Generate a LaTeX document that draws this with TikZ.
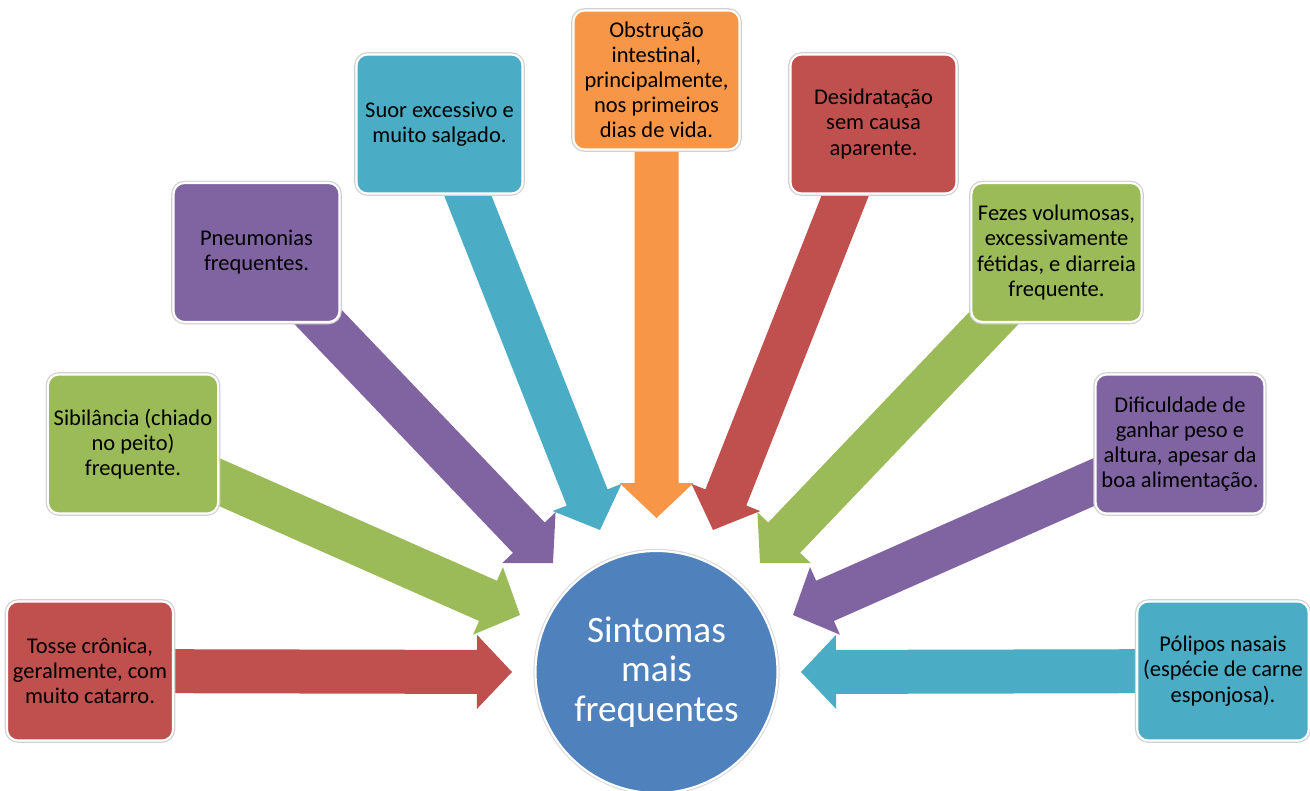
\documentclass[tikz,border=0pt]{standalone}
\usepackage{fontspec}
\setmainfont{Carlito}
\usetikzlibrary{calc,backgrounds}

\definecolor{ofblue}{HTML}{4F81BD}
\definecolor{ofred}{HTML}{C0504D}
\definecolor{ofgreen}{HTML}{9BBB59}
\definecolor{ofpurple}{HTML}{8064A2}
\definecolor{ofaqua}{HTML}{4BACC6}
\definecolor{oforange}{HTML}{F79646}

% block arrow from a node to a tip coordinate
\newcommand{\blockarrow}[3]{%
    \coordinate (hb) at ($(#3)!0.7cm!(#2)$);
    \fill [#1] ($(#2)!0.44cm!90:(#3)$) -- ($(hb)!0.44cm!90:(#3)$)
        -- ($(hb)!0.74cm!90:(#3)$) -- (#3) -- ($(hb)!0.74cm!-90:(#3)$)
        -- ($(hb)!0.44cm!-90:(#3)$) -- ($(#2)!0.44cm!-90:(#3)$) -- cycle;
}

\begin{document}
\begin{tikzpicture}[
    symbox/.style={rounded corners=0.22cm, minimum width=3.32cm, minimum height=2.78cm,
        align=center, draw=white, line width=1.2pt, preaction={draw=black!18, line width=2.6pt},
        font=\fontsize{12.8}{14.3}\selectfont, text=black},
    hub/.style={circle, fill=ofblue, draw=white, line width=1.2pt, preaction={draw=black!15, line width=2.4pt},
        minimum size=4.84cm, align=center, text=white, font=\fontsize{21.2}{22.6}\selectfont}]
    \useasboundingbox (0,0) rectangle (26.2,-15.82);

    % Centre
    \node [hub] (centro) at (13.13,-13.44) {Sintomas\\mais\\frequentes};

    % Symptom boxes
    \node [symbox, fill=ofred] (tosse) at (1.80,-13.42) {Tosse crônica,\\geralmente, com\\muito catarro.};
    \node [symbox, fill=ofgreen] (sibil) at (2.66,-8.88) {Sibilância (chiado\\no peito)\\frequente.};
    \node [symbox, fill=ofpurple] (pneum) at (5.13,-5.05) {Pneumonias\\frequentes.};
    \node [symbox, fill=ofaqua] (suor) at (8.79,-2.48) {Suor excessivo e\\muito salgado.};
    \node [symbox, fill=oforange] (obstr) at (13.13,-1.60) {Obstrução\\intestinal,\\principalmente,\\nos primeiros\\dias de vida.};
    \node [symbox, fill=ofred] (desid) at (17.47,-2.48) {Desidratação\\sem causa\\aparente.};
    \node [symbox, fill=ofgreen] (fezes) at (21.13,-5.05) {Fezes volumosas,\\excessivamente\\fétidas, e diarreia\\frequente.};
    \node [symbox, fill=ofpurple] (dific) at (23.60,-8.88) {Dificuldade de\\ganhar peso e\\altura, apesar da\\boa alimentação.};
    \node [symbox, fill=ofaqua] (polipos) at (24.46,-13.42) {Pólipos nasais\\(espécie de carne\\esponjosa).};

    % Arrow tips
    \coordinate (t-tosse) at (10.24,-13.44);
    \coordinate (t-sibil) at (10.40,-12.30);
    \coordinate (t-pneum) at (11.06,-11.26);
    \coordinate (t-suor) at (12.00,-10.60);
    \coordinate (t-obstr) at (13.13,-10.36);
    \coordinate (t-desid) at (14.26,-10.60);
    \coordinate (t-fezes) at (15.20,-11.26);
    \coordinate (t-dific) at (15.86,-12.30);
    \coordinate (t-polipos) at (16.02,-13.44);

    % Arrows
    \begin{pgfonlayer}{background}
        \foreach \n/\c in {tosse/ofred, sibil/ofgreen, pneum/ofpurple, suor/ofaqua, obstr/oforange,
                desid/ofred, fezes/ofgreen, dific/ofpurple, polipos/ofaqua}
            {\blockarrow{\c}{\n}{t-\n}}
    \end{pgfonlayer}
\end{tikzpicture}
\end{document}
